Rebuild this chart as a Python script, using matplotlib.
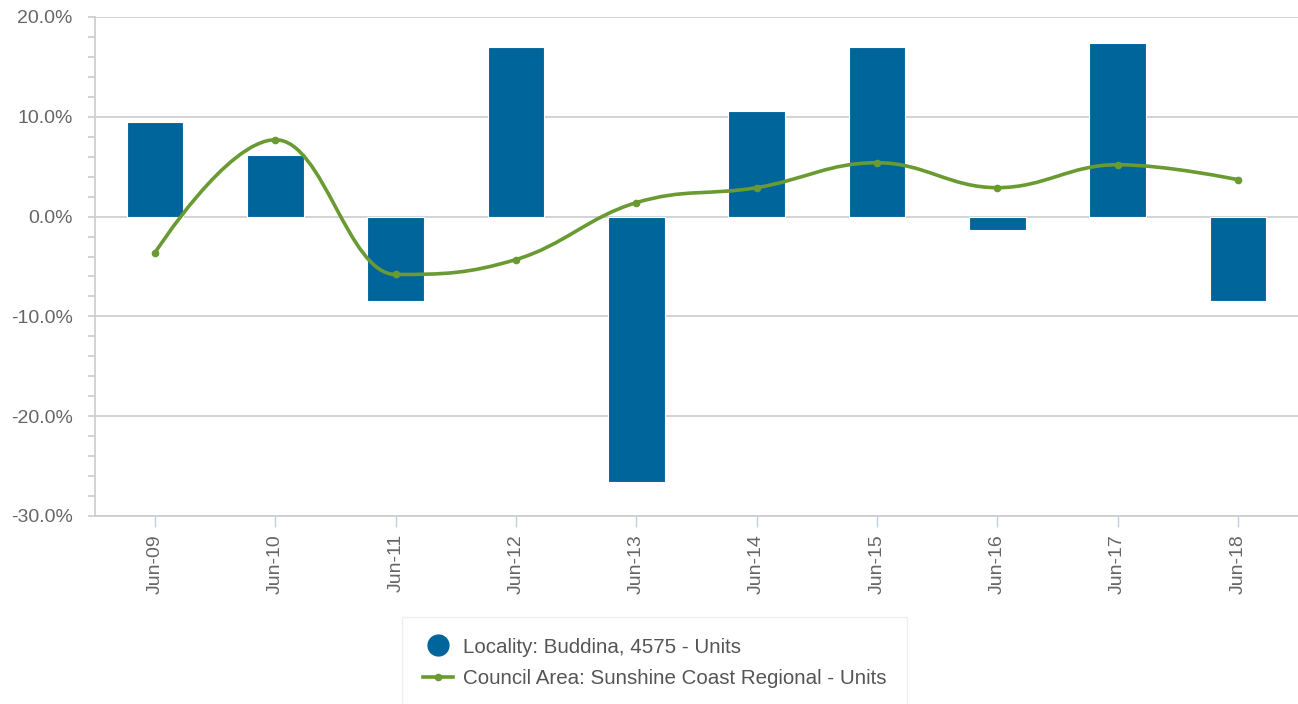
import numpy as np
import matplotlib
matplotlib.use("Agg")
import matplotlib.pyplot as plt
from matplotlib.path import Path
from matplotlib.patches import PathPatch
from matplotlib.lines import Line2D
from matplotlib.ticker import MultipleLocator, FuncFormatter

plt.rcParams['font.family'] = ['Liberation Sans', 'DejaVu Sans']

# data
categories = ["Jun-09", "Jun-10", "Jun-11", "Jun-12", "Jun-13",
              "Jun-14", "Jun-15", "Jun-16", "Jun-17", "Jun-18"]
locality = [9.5, 6.2, -8.5, 17.0, -26.6, 10.6, 17.0, -1.3, 17.4, -8.5]
council = [-3.6, 7.7, -5.8, -4.3, 1.4, 2.9, 5.4, 2.9, 5.2, 3.7]

bar_col = "#00659a"
line_col = "#6a9a32"
grid_col = "#cccccc"
text_col = "#666666"


# highcharts-like spline control points
def spline_path(xs, ys, smoothing=1.5):
    n = len(xs)
    denom = smoothing + 1
    lc = [(xs[i], ys[i]) for i in range(n)]
    rc = [(xs[i], ys[i]) for i in range(n)]
    for i in range(1, n - 1):
        px, py = xs[i], ys[i]
        lx, ly = xs[i - 1], ys[i - 1]
        nx, ny = xs[i + 1], ys[i + 1]
        lcx = (smoothing * px + lx) / denom
        lcy = (smoothing * py + ly) / denom
        rcx = (smoothing * px + nx) / denom
        rcy = (smoothing * py + ny) / denom
        corr = ((rcy - lcy) * (rcx - px)) / (rcx - lcx) + py - rcy
        lcy += corr
        rcy += corr
        if lcy > ly and lcy > py:
            lcy = max(ly, py)
            rcy = 2 * py - lcy
        elif lcy < ly and lcy < py:
            lcy = min(ly, py)
            rcy = 2 * py - lcy
        if rcy > ny and rcy > py:
            rcy = max(ny, py)
            lcy = 2 * py - rcy
        elif rcy < ny and rcy < py:
            rcy = min(ny, py)
            lcy = 2 * py - rcy
        lc[i] = (lcx, lcy)
        rc[i] = (rcx, rcy)
    verts = [(xs[0], ys[0])]
    codes = [Path.MOVETO]
    for i in range(1, n):
        verts += [rc[i - 1], lc[i], (xs[i], ys[i])]
        codes += [Path.CURVE4] * 3
    return Path(verts, codes)


fig = plt.figure(figsize=(12.98, 7.04), dpi=100)
ax = fig.add_axes([95 / 1298, 1 - 516 / 704, 1 - 95 / 1298, 499 / 704])

x = np.arange(len(categories))
ax.bar(x, locality, width=0.47, color=bar_col, edgecolor="white",
       linewidth=0.8, zorder=2)

path = spline_path(list(x.astype(float)), council)
ax.add_patch(PathPatch(path, facecolor="none", edgecolor=line_col,
                       linewidth=2.6, zorder=3, capstyle="round"))
ax.plot(x, council, "o", color=line_col, markersize=4.5, zorder=4)

ax.set_xlim(-0.5, len(categories) - 0.5)
ax.set_ylim(-30, 20)
ax.yaxis.set_major_locator(MultipleLocator(10))
ax.yaxis.set_minor_locator(MultipleLocator(2))
ax.yaxis.set_major_formatter(FuncFormatter(lambda v, p: f"{v:.1f}%"))
ax.grid(axis="y", color=grid_col, linewidth=1.2, zorder=0)

ax.set_xticks(x)
ax.set_xticklabels(categories, rotation=90)

for s in ["top", "right"]:
    ax.spines[s].set_visible(False)
for s in ["left", "bottom"]:
    ax.spines[s].set_color(grid_col)
    ax.spines[s].set_linewidth(1.2)

ax.tick_params(axis="y", which="major", length=5, width=1.2, color=grid_col,
               labelsize=14, labelcolor=text_col, pad=11)
ax.tick_params(axis="y", which="minor", length=5, width=1.2, color=grid_col)
ax.tick_params(axis="x", length=8, width=1, color="#c0d0e0",
               labelsize=14, labelcolor=text_col, pad=5)

handles = [
    Line2D([], [], linestyle="none", marker="o", markersize=15,
           color=bar_col),
    Line2D([], [], color=line_col, linewidth=2.6, marker="o",
           markersize=4.5),
]
labels = ["Locality: Buddina, 4575 - Units",
          "Council Area: Sunshine Coast Regional - Units"]
leg = fig.legend(handles, labels, loc="upper left",
                 bbox_to_anchor=(402 / 1298, 1 - 617 / 704),
                 frameon=True, fancybox=False, fontsize=14.8,
                 labelcolor="#555555", handlelength=1.5,
                 borderpad=1.0, labelspacing=0.6, handletextpad=0.45,
                 borderaxespad=0)
leg.get_frame().set_edgecolor("#ececec")
leg.get_frame().set_linewidth(1.0)

fig.savefig("out.png", dpi=100)
